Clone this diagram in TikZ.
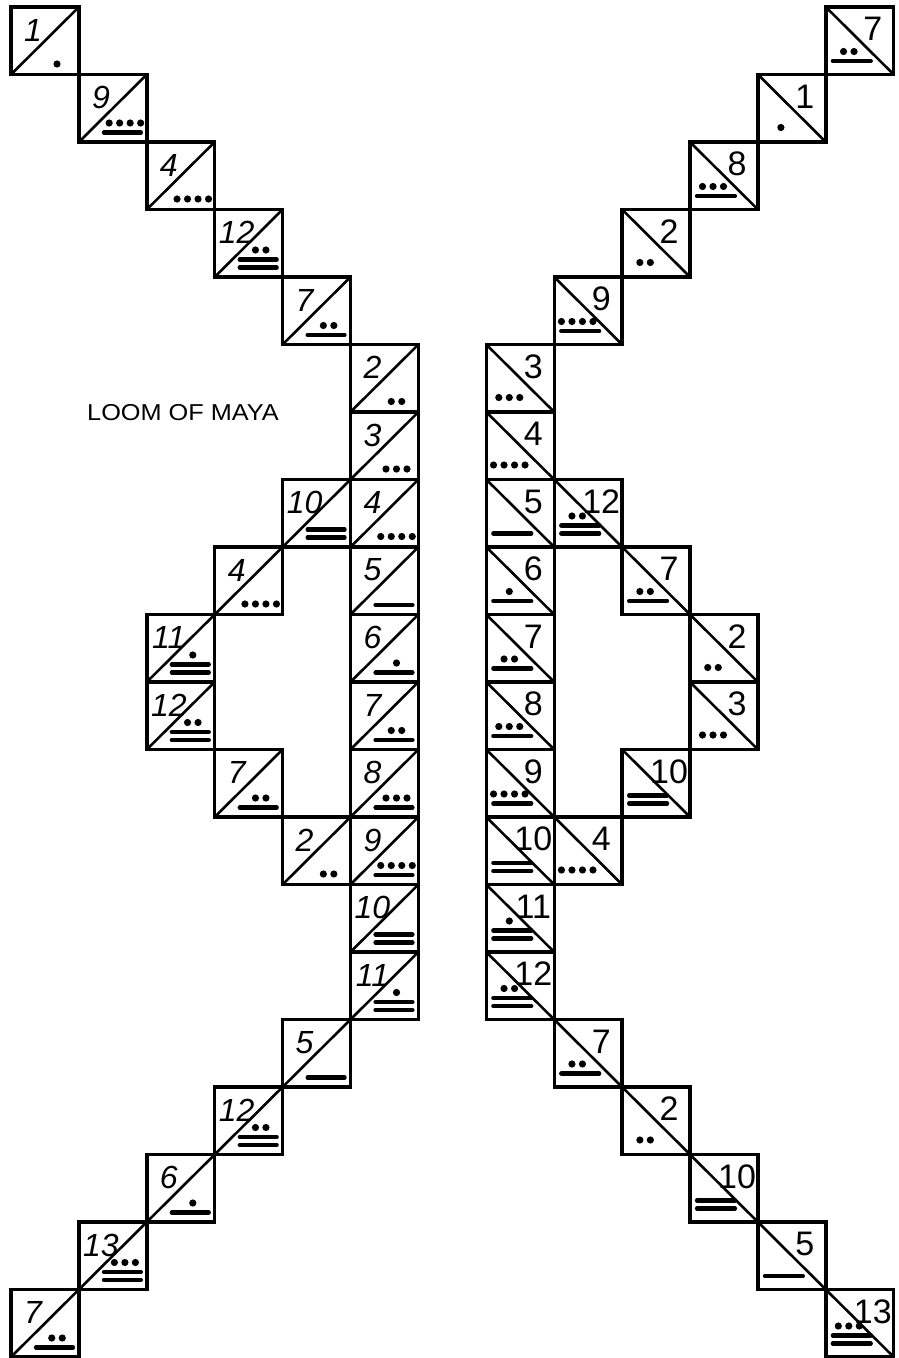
\documentclass[tikz,border=0pt]{standalone}
\usepackage{fontspec}
\setmainfont{Liberation Sans}
\tikzset{
  sqbox/.style={draw, line width=3.4pt, minimum width=67.9pt, minimum height=67.5pt, inner sep=0pt, outer sep=0pt},
  diag/.style={line width=2.6pt},
  numL/.style={font=\fontsize{32}{32}\selectfont\itshape, inner sep=0pt},
  numR/.style={font=\fontsize{34}{34}\selectfont, inner sep=0pt},
  barline/.style={line width=4.2pt, line cap=round},
  titletext/.style={font=\fontsize{23}{23}\selectfont, anchor=base west, inner sep=0pt},
}
% #1 name, #2 column, #3 row, #4 side (L or R), #5 number
\newcommand\msq[5]{%
  \pgfmathsetmacro\xa{11+67.9*#2}%
  \pgfmathsetmacro\ya{7+67.5*#3}%
  \pgfmathtruncatemacro\nbar{floor(#5/5)}%
  \pgfmathtruncatemacro\ndot{#5-5*\nbar}%
  \node[sqbox] (#1) at ({\xa+33.95},{\ya+33.75}) {};
  \ifx L#4%
    \draw[diag] (#1.south west) -- (#1.north east);
    \node[numL] (#1n) at ({\xa+22},{\ya+23}) {#5};
    \pgfmathsetmacro\bx{\xa+25}\pgfmathsetmacro\ex{\xa+62}%
    \pgfmathsetmacro\by{\ya+58}\pgfmathsetmacro\dc{\xa+46}%
  \else
    \draw[diag] (#1.north west) -- (#1.south east);
    \node[numR] (#1n) at ({\xa+47},{\ya+22}) {#5};
    \pgfmathsetmacro\bx{\xa+7}\pgfmathsetmacro\ex{\xa+45}%
    \pgfmathsetmacro\by{\ya+54}\pgfmathsetmacro\dc{\xa+23}%
  \fi
  \ifnum\nbar>0
    \foreach \k in {1,...,\nbar}{
      \draw[barline] ({\bx},{\by-(\k-1)*8}) -- ({\ex},{\by-(\k-1)*8});
    }
    \pgfmathsetmacro\dy{\by-(\nbar-1)*8-9.5}%
  \else
    \pgfmathsetmacro\dy{\by-1}%
  \fi
  \ifnum\ndot>0
    \foreach \k in {1,...,\ndot}{
      \fill ({\dc+(\k-(\ndot+1)/2)*10.5},{\dy}) circle (3.6pt);
    }
  \fi
}
\begin{document}
\begin{tikzpicture}[x=1pt,y=-1pt]
\useasboundingbox (0,0) rectangle (899,1358);
% left half
\msq{a0}{0}{0}{L}{1}
\msq{a1}{1}{1}{L}{9}
\msq{a2}{2}{2}{L}{4}
\msq{a3}{3}{3}{L}{12}
\msq{a4}{4}{4}{L}{7}
\msq{c5}{5}{5}{L}{2}
\msq{c6}{5}{6}{L}{3}
\msq{c7}{5}{7}{L}{4}
\msq{l7}{4}{7}{L}{10}
\msq{c8}{5}{8}{L}{5}
\msq{l8}{3}{8}{L}{4}
\msq{c9}{5}{9}{L}{6}
\msq{l9}{2}{9}{L}{11}
\msq{c10}{5}{10}{L}{7}
\msq{l10}{2}{10}{L}{12}
\msq{c11}{5}{11}{L}{8}
\msq{l11}{3}{11}{L}{7}
\msq{c12}{5}{12}{L}{9}
\msq{l12}{4}{12}{L}{2}
\msq{c13}{5}{13}{L}{10}
\msq{c14}{5}{14}{L}{11}
\msq{b15}{4}{15}{L}{5}
\msq{b16}{3}{16}{L}{12}
\msq{b17}{2}{17}{L}{6}
\msq{b18}{1}{18}{L}{13}
\msq{b19}{0}{19}{L}{7}
% right half
\msq{A0}{12}{0}{R}{7}
\msq{A1}{11}{1}{R}{1}
\msq{A2}{10}{2}{R}{8}
\msq{A3}{9}{3}{R}{2}
\msq{A4}{8}{4}{R}{9}
\msq{C5}{7}{5}{R}{3}
\msq{C6}{7}{6}{R}{4}
\msq{C7}{7}{7}{R}{5}
\msq{R7}{8}{7}{R}{12}
\msq{C8}{7}{8}{R}{6}
\msq{R8}{9}{8}{R}{7}
\msq{C9}{7}{9}{R}{7}
\msq{R9}{10}{9}{R}{2}
\msq{C10}{7}{10}{R}{8}
\msq{R10}{10}{10}{R}{3}
\msq{C11}{7}{11}{R}{9}
\msq{R11}{9}{11}{R}{10}
\msq{C12}{7}{12}{R}{10}
\msq{R12}{8}{12}{R}{4}
\msq{C13}{7}{13}{R}{11}
\msq{C14}{7}{14}{R}{12}
\msq{B15}{8}{15}{R}{7}
\msq{B16}{9}{16}{R}{2}
\msq{B17}{10}{17}{R}{10}
\msq{B18}{11}{18}{R}{5}
\msq{B19}{12}{19}{R}{13}
% title
\node[titletext] (title) at (87,420) {\scalebox{1.1}[1]{LOOM OF MAYA}};
\end{tikzpicture}
\end{document}
